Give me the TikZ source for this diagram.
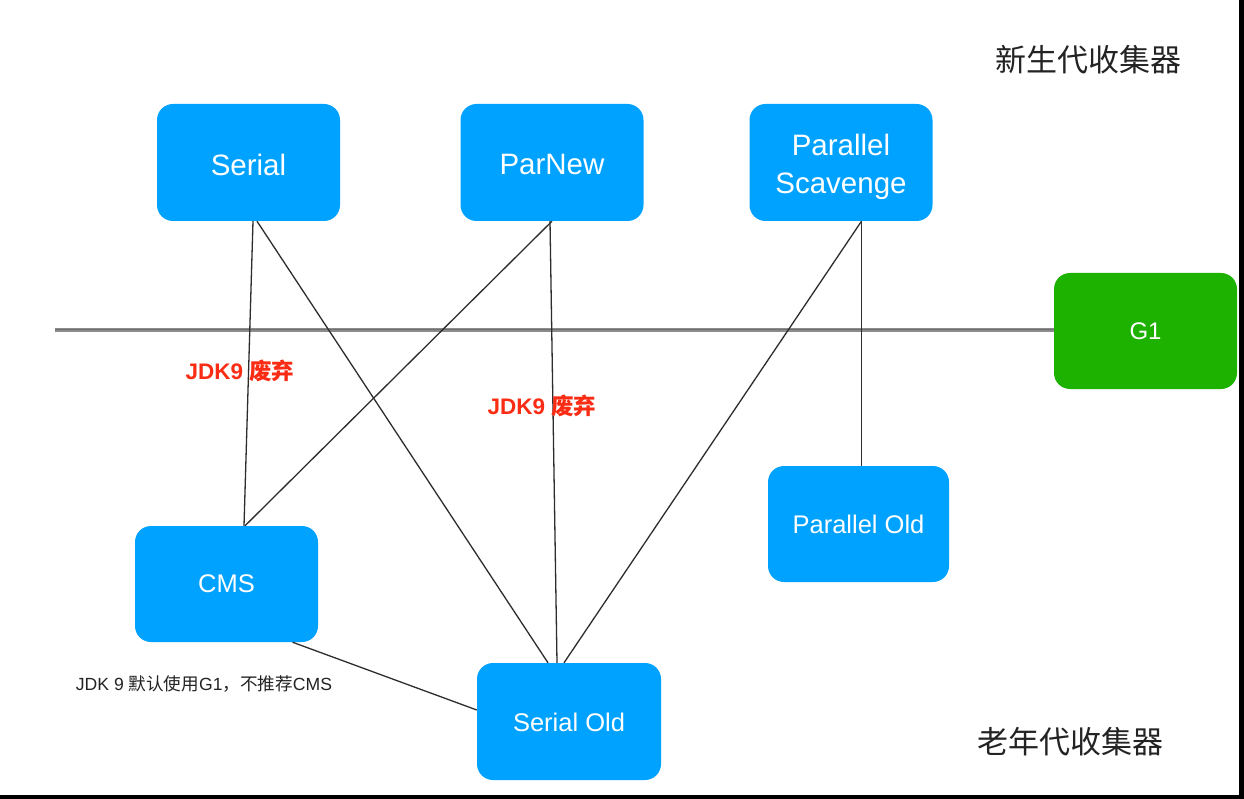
\documentclass[tikz,border=0pt]{standalone}
\usepackage{fontspec}
\setmainfont{Liberation Sans}
\newfontfamily\cjk{Noto Sans CJK SC}
\definecolor{boxblue}{RGB}{0,162,255}
\definecolor{boxgreen}{RGB}{29,177,0}
\definecolor{divgray}{RGB}{140,140,140}
\definecolor{linegray}{RGB}{45,45,45}
\definecolor{labred}{RGB}{250,45,20}
\definecolor{txtdark}{RGB}{35,35,35}
\newcommand{\lowerby}[2]{\raisebox{-#1}[\height][\depth]{#2}}
\begin{document}
\begin{tikzpicture}[x=1pt,y=-1pt,
  gcbox/.style={fill=boxblue, rounded corners=16pt, text=white, align=center, inner sep=0pt},
  topbox/.style={gcbox, minimum width=183pt, minimum height=117pt, font=\fontsize{29.5}{38}\selectfont},
  oldbox/.style={gcbox, minimum width=183pt, minimum height=116pt, font=\fontsize{25.5}{30}\selectfont},
  conn/.style={draw=linegray, line width=1.3pt},
  redlab/.style={text=labred, font=\fontsize{22.5}{26}\selectfont\bfseries, inner sep=0pt},
  areatitle/.style={text=txtdark, font=\fontsize{31}{36}\selectfont\cjk, inner sep=0pt}
]
\useasboundingbox (0,0) rectangle (1244,799);
\fill[white] (0,0) rectangle (1244,799);
\fill[black] (1238.5,0) rectangle (1244,799);
\fill[black] (0,795) rectangle (1244,799);

% nodes
\node[topbox] (serial) at (248.5,162.5) {\lowerby{2pt}{Serial}};
\node[topbox] (parnew) at (552,162.5) {\lowerby{2pt}{ParNew}};
\node[topbox] (ps) at (841,162.5) {\lowerby{4.5pt}{\begin{tabular}{@{}c@{}}Parallel\\Scavenge\end{tabular}}};
\node[gcbox, fill=boxgreen, minimum width=183pt, minimum height=116pt, font=\fontsize{24}{28}\selectfont] (g1) at (1145.5,331) {G1};
\node[oldbox, minimum width=181pt] (pold) at (858.5,524) {Parallel Old};
\node[oldbox] (cms) at (226.5,584) {CMS};
\node[oldbox, minimum width=184pt, minimum height=117pt] (sold) at (569,721.5) {\lowerby{1pt}{Serial Old}};

% divider
\coordinate (divstart) at (55,330);
\draw[divgray, line width=3.6pt] (divstart) -- ([yshift=1pt]g1.west);
\draw[divgray!60!black, line width=0.8pt, opacity=0.5] ([yshift=0.8pt]divstart) -- ([yshift=1.8pt]g1.west);

% connectors
\draw[conn] ([xshift=4.5pt]serial.south) -- ([xshift=17.5pt]cms.north);
\draw[conn] ([xshift=8.5pt]serial.south) -- ([xshift=-21pt]sold.north);
\draw[conn] ([xshift=0pt]parnew.south) -- ([xshift=18.5pt]cms.north);
\draw[conn] ([xshift=-2pt]parnew.south) -- ([xshift=-12pt]sold.north);
\draw[conn] ([xshift=20.5pt]ps.south) -- ([xshift=-5pt]sold.north);
\draw[conn] ([xshift=20.5pt]ps.south) -- ([xshift=3pt]pold.north);
\draw[conn] ([xshift=66pt]cms.south) -- ([yshift=11.5pt]sold.west);

% labels
\node[redlab] (dep1) at (240,371) {JDK9 {\cjk\bfseries 废弃}};
\node[redlab] (dep2) at (542,406) {JDK9 {\cjk\bfseries 废弃}};
\node[areatitle] (young) at (1088,60) {新生代收集器};
\node[areatitle] (old) at (1070,742) {老年代收集器};
\node[text=txtdark, font=\fontsize{17.6}{20}\selectfont, inner sep=0pt] (note) at (204,684) {JDK 9 {\cjk 默认使用}G1{\cjk ，不推荐}CMS};
\end{tikzpicture}
\end{document}
